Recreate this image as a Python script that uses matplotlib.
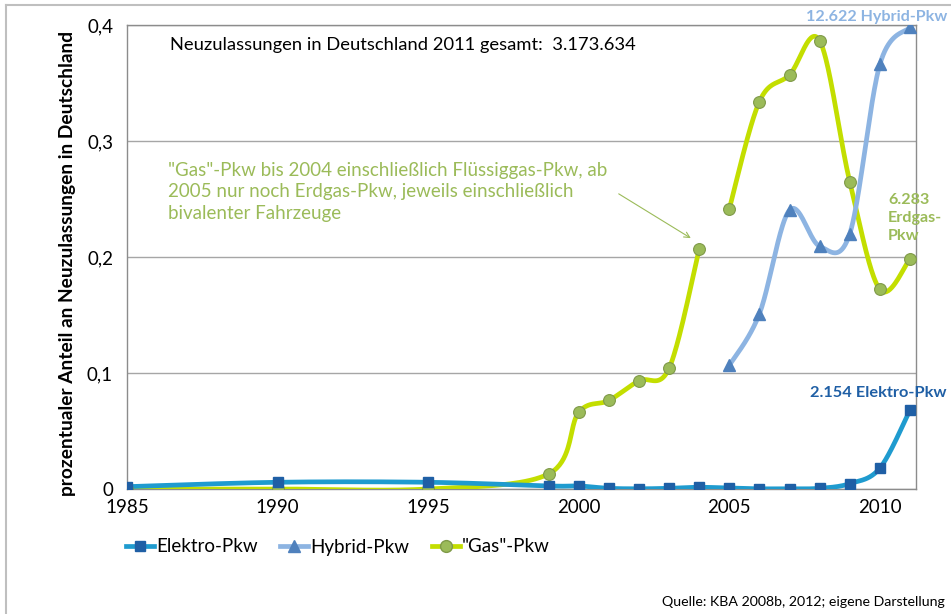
import numpy as np
import matplotlib
matplotlib.use("Agg")
import matplotlib.pyplot as plt
from matplotlib.lines import Line2D

plt.rcParams['font.family'] = ['Lato', 'DejaVu Sans']

# Anteil an Neuzulassungen in Prozent
elektro_jahre = [1985, 1990, 1995, 1999, 2000, 2001, 2002, 2003, 2004, 2005,
                 2006, 2007, 2008, 2009, 2010, 2011]
elektro = [0.002, 0.0058, 0.0058, 0.0026, 0.0026, 0.0006, 0.0002, 0.0006, 0.0015,
           0.0008, 0.0002, 0.0002, 0.0006, 0.0046, 0.018, 0.068]

hybrid_jahre = [2005, 2006, 2007, 2008, 2009, 2010, 2011]
hybrid = [0.1065, 0.151, 0.2404, 0.2093, 0.220, 0.366, 0.398]

gas_jahre_alt = [1985, 1990, 1995, 1999, 2000, 2001, 2002, 2003, 2004]
gas_alt = [0.0, 0.0, 0.0, 0.013, 0.066, 0.0763, 0.0933, 0.104, 0.2065]
gas_jahre_neu = [2005, 2006, 2007, 2008, 2009, 2010, 2011]
gas_neu = [0.2416, 0.334, 0.357, 0.3865, 0.265, 0.172, 0.1985]

x_ticks = [1985, 1990, 1995, 2000, 2005, 2010]
y_ticks = [0, 0.1, 0.2, 0.3, 0.4]
y_ticklabels = ['0', '0,1', '0,2', '0,3', '0,4']

c_elektro_line = '#1F9BCF'
c_elektro_mark = '#1F5FA5'
c_hybrid_line = '#8DB4E2'
c_hybrid_mark = '#4F81BD'
c_gas_line = '#C3DE00'
c_gas_mark = '#9BBB59'
c_gas_edge = '#7F9A48'


def excel_smooth(x, y, sx=30.1, sy=1157.5, n=40):
    # Bezier-Glaettung wie in Excel, in Bildschirm-Einheiten gerechnet
    p = np.column_stack([np.asarray(x, float) * sx, np.asarray(y, float) * sy])
    out = [p[0]]
    t = np.linspace(0, 1, n)[1:, None]
    for i in range(len(p) - 1):
        p0 = p[i - 1] if i > 0 else p[i]
        p3 = p[i + 2] if i + 2 < len(p) else p[i + 1]
        c1 = p[i] + (p[i + 1] - p0) / 6
        c2 = p[i + 1] - (p3 - p[i]) / 6
        seg = ((1 - t) ** 3 * p[i] + 3 * (1 - t) ** 2 * t * c1
               + 3 * (1 - t) * t ** 2 * c2 + t ** 3 * p[i + 1])
        out.extend(seg)
    out = np.array(out)
    return out[:, 0] / sx, out[:, 1] / sy


fig = plt.figure(figsize=(9.51, 6.14), dpi=100)
ax = fig.add_axes([127 / 951, 1 - 489 / 614, (916 - 127) / 951, (489 - 25) / 614])

lw = 3.4
for jahre, werte in [(gas_jahre_alt, gas_alt), (gas_jahre_neu, gas_neu)]:
    sxv, syv = excel_smooth(jahre, werte)
    ax.plot(sxv, syv, color=c_gas_line, lw=lw, zorder=3, solid_capstyle='round')
    ax.plot(jahre, werte, 'o', ms=8.5, color=c_gas_mark, mec=c_gas_edge, mew=0.8, zorder=4)

sxv, syv = excel_smooth(hybrid_jahre, hybrid)
ax.plot(sxv, syv, color=c_hybrid_line, lw=lw, zorder=3, solid_capstyle='round')
ax.plot(hybrid_jahre, hybrid, '^', ms=8, color=c_hybrid_mark, mec=c_hybrid_mark, zorder=4)

sxv, syv = excel_smooth(elektro_jahre, elektro)
ax.plot(sxv, syv, color=c_elektro_line, lw=lw, zorder=3, solid_capstyle='round')
ax.plot(elektro_jahre, elektro, 's', ms=7, color=c_elektro_mark, mec=c_elektro_mark, zorder=5)

ax.set_xlim(1985, 2011.2)
ax.set_ylim(0, 0.4)
ax.set_xticks(x_ticks)
ax.set_yticks(y_ticks)
ax.set_yticklabels(y_ticklabels)
ax.tick_params(length=0, labelsize=13.5, pad=7)
ax.tick_params(axis='y', pad=10)
ax.grid(axis='y', color='#A6A6A6', lw=1)
ax.set_axisbelow(True)
for s in ax.spines.values():
    s.set_color('#8C8C8C')
    s.set_linewidth(1)

fig.text(68 / 951, 1 - 263 / 614, 'prozentualer Anteil an Neuzulassungen in Deutschland',
         rotation=90, ha='center', va='center', fontsize=13.8, fontweight='bold')

fig.text(170 / 951, 1 - 45 / 614, 'Neuzulassungen in Deutschland 2011 gesamt:  3.173.634',
         ha='left', va='center', fontsize=13.2)

fig.text(168 / 951, 1 - 192 / 614,
         '"Gas"-Pkw bis 2004 einschließlich Flüssiggas-Pkw, ab\n'
         '2005 nur noch Erdgas-Pkw, jeweils einschließlich\n'
         'bivalenter Fahrzeuge',
         ha='left', va='center', fontsize=13.5, color=c_gas_mark, linespacing=1.3)
ax.annotate('', xy=(2003.8, 0.215), xytext=(2001.25, 0.2557),
            arrowprops=dict(arrowstyle='->', color=c_gas_mark, lw=0.8))

fig.text(947 / 951, 1 - 17 / 614, '12.622 Hybrid-Pkw', ha='right', va='center',
         fontsize=11.6, fontweight='bold', color=c_hybrid_line)
fig.text(888 / 951, 1 - 218 / 614, '6.283\nErdgas-\nPkw', ha='left', va='center',
         fontsize=11.6, fontweight='bold', color=c_gas_mark, linespacing=1.35)
fig.text(947 / 951, 1 - 393 / 614, '2.154 Elektro-Pkw', ha='right', va='center',
         fontsize=11.8, fontweight='bold', color=c_elektro_mark)

fig.text(945 / 951, 1 - 602 / 614, 'Quelle: KBA 2008b, 2012; eigene Darstellung',
         ha='right', va='center', fontsize=10.2)

handles = [
    Line2D([], [], color=c_elektro_line, lw=lw, marker='s', ms=7, mfc=c_elektro_mark, mec=c_elektro_mark),
    Line2D([], [], color=c_hybrid_line, lw=lw, marker='^', ms=8, mfc=c_hybrid_mark, mec=c_hybrid_mark),
    Line2D([], [], color=c_gas_line, lw=lw, marker='o', ms=8.5, mfc=c_gas_mark, mec=c_gas_edge),
]
fig.legend(handles, ['Elektro-Pkw', 'Hybrid-Pkw', '"Gas"-Pkw'], ncol=3,
           loc='center left', bbox_to_anchor=(126 / 951, 1 - 547 / 614),
           frameon=False, fontsize=13.5, handlelength=1.5, handletextpad=0.1,
           columnspacing=1.2, borderpad=0, borderaxespad=0)

# Rahmen links und oben
fig.add_artist(Line2D([6 / 951, 6 / 951], [0, 1 - 5 / 614], color='#BFBFBF', lw=1.5))
fig.add_artist(Line2D([6 / 951, 1], [1 - 5 / 614, 1 - 5 / 614], color='#BFBFBF', lw=1.5))

fig.savefig('out.png', dpi=100)
